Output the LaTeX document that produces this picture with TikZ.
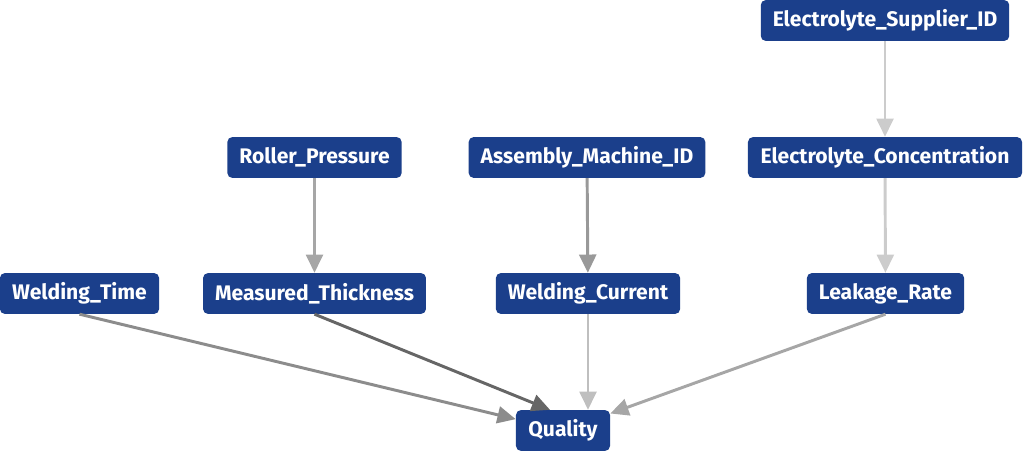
\documentclass[tikz,border=0pt]{standalone}
\usepackage{fontspec}
\setmainfont{Fira Sans}
\usepackage{tikz}
\usetikzlibrary{arrows.meta,positioning,calc}

\definecolor{boxblue}{HTML}{1B3F8B}

\begin{document}
\begin{tikzpicture}[
    x=0.025cm, y=-0.025cm,
    var/.style={draw=none, rounded corners=3.5pt, minimum height=1.02cm, inner xsep=0.3cm, align=center, font=\fontsize{15}{17}\selectfont\bfseries, fill=boxblue, text=white},
    arr/.style={-{Triangle[length=13pt, width=12pt]}, line width=2.1pt},
]
\useasboundingbox (0,0) rectangle (1024,451);

\node[var, minimum width=6.15cm] (ES) at (885,20.5) {Electrolyte\_Supplier\_ID};
\node[var, minimum width=4.33cm] (RP) at (314.5,157.5) {Roller\_Pressure};
\node[var, minimum width=5.85cm] (AM) at (587,157.5) {Assembly\_Machine\_ID};
\node[var, minimum width=6.85cm] (EC) at (885,157.5) {Electrolyte\_Concentration};
\node[var, minimum width=3.98cm] (WT) at (79.5,293.5) {Welding\_Time};
\node[var, minimum width=5.53cm] (MT) at (314.5,293.5) {Measured\_Thickness};
\node[var, minimum width=4.6cm] (WC) at (588,293.5) {Welding\_Current};
\node[var, minimum width=3.93cm] (LR) at (885.5,293.5) {Leakage\_Rate};
\node[var, minimum width=2.35cm] (Q) at (563,430.5) {Quality};

\coordinate (Qtop) at ($(Q.north)+(-13,0)$);

\draw[arr, black!20] (ES) -- (EC);
\draw[arr, black!20] (EC) -- (LR);
\draw[arr, black!35] (RP) -- (MT);
\draw[arr, black!40] (AM) -- (WC);
\draw[arr, black!45] (WT.south) -- (Q);
\draw[arr, black!60] (MT.south) -- (Qtop);
\draw[arr, black!25] (WC.south) -- (WC.south |- Q.north);
\draw[arr, black!35] (LR.south) -- (Q);
\end{tikzpicture}
\end{document}
